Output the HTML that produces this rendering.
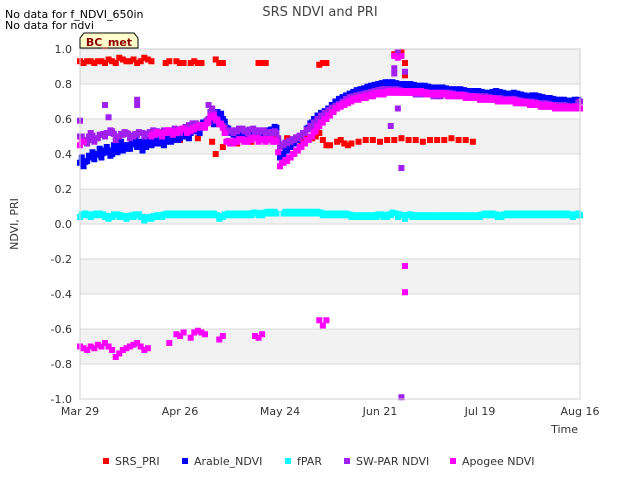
<!DOCTYPE html>
<html><head><meta charset="utf-8"><style>
body{margin:0;background:#fff;font-family:"DejaVu Sans","Liberation Sans",sans-serif;}
svg text{font-family:"DejaVu Sans","Liberation Sans",sans-serif;}
</style></head><body>
<svg id="chart" width="640" height="480" viewBox="0 0 640 480">
<text x="320" y="16" text-anchor="middle" font-size="13" fill="#444">SRS NDVI and PRI</text>
<text x="5" y="18" font-size="11" fill="#000">No data for f_NDVI_650in</text>
<text x="5" y="29" font-size="11" fill="#000">No data for ndvi</text>
<g id="grid"></g>
<g id="marks"></g>
<g id="axes"></g>
<path d="M80,48 L80,38 L84,33 L134,33 L138,38 L138,48 Z" fill="#ffffcc" stroke="#000" stroke-width="1"/>
<text x="109" y="46" text-anchor="middle" font-size="11" font-weight="bold" fill="#8b0000">BC_met</text>
<text x="18" y="224" text-anchor="middle" font-size="11" fill="#333" transform="rotate(-90 18 224)">NDVI, PRI</text>
<text x="578" y="433" text-anchor="end" font-size="11" fill="#333">Time</text>
<g id="legend"></g>
</svg>
<script>
const xTickLabels=["Mar 29","Apr 26","May 24","Jun 21","Jul 19","Aug 16"];
const xTickDays=[0,28,56,84,112,140];
const yTicks=[1.0,0.8,0.6,0.4,0.2,0.0,-0.2,-0.4,-0.6,-0.8,-1.0];
const seriesNames=["SRS_PRI","Arable_NDVI","fPAR","SW-PAR NDVI","Apogee NDVI"];
const seriesColors=["#ff0000","#0000ff","#00ffff","#a020f0","#ff00ff"];

const arableVals=[0.35,0.33,0.36,0.38,0.37,0.40,0.38,0.41,0.42,0.40,0.43,0.44,0.42,0.45,0.43,0.46,0.44,0.45,0.47,0.46,0.45,0.47,0.46,0.48,0.47,0.49,0.48,0.50,0.49,0.50,0.51,0.52,0.53,0.55,0.56,0.57,0.58,0.59,0.62,0.61,0.60,
0.55,0.52,0.51,0.50,0.50,0.51,0.50,0.51,0.52,0.52,0.51,0.53,0.52,0.54,0.55,
0.38,0.40,0.42,0.44,0.46,0.48,0.50,0.52,0.55,0.58,0.60,0.62,0.63,0.64,0.66,0.68,0.70,0.71,0.72,0.73,0.74,0.75,0.76,0.76,0.77,
0.78,0.78,0.79,0.79,0.80,0.80,0.80,0.80,0.79,0.79,0.79,0.79,0.79,0.78,0.78,
0.78,0.78,0.77,0.77,0.77,0.77,0.77,0.76,0.76,0.76,0.76,0.76,0.75,0.75,0.75,0.75,0.75,0.74,0.74,0.74,0.75,0.75,0.74,0.74,0.73,0.74,0.74,0.73,0.73,0.72,0.72,0.73,0.72,0.72,0.71,0.71,0.71,0.70,0.70,0.70,0.70,0.69,0.70,0.70,0.70];
const arableVals2=[0.38,0.36,0.39,0.41,0.40,0.43,0.42,0.44,0.39,0.45,0.41,0.47,0.45,0.43,0.46,0.48,0.47,0.42,0.44,0.49,0.48,0.46,0.49,0.45,0.50,0.47,0.51,0.48,0.52,0.53,0.49,0.54,0.55,0.52,0.58,0.59,0.60,0.57,0.64,0.63,0.58];

const apogeeVals=[0.45,0.47,null,null,null,null,null,null,null,null,null,null,null,null,null,null,null,null,null,null,
0.50,0.51,0.52,0.50,0.52,0.53,0.51,0.52,0.53,0.54,0.52,0.53,0.54,0.55,0.56,0.55,0.58,0.62,0.60,0.57,0.55,
0.47,0.46,0.46,0.47,0.48,0.47,0.47,0.48,0.49,0.47,0.48,0.47,0.48,0.47,0.47,
0.33,0.35,0.36,0.38,0.40,0.42,0.44,0.46,0.48,0.50,0.53,0.56,0.58,0.60,0.62,0.64,0.66,0.67,0.68,0.69,0.70,0.71,0.71,0.72,0.72,0.73,0.73,0.74,0.74,0.74,
0.75,0.75,0.75,0.75,0.75,0.75,0.75,0.75,0.75,0.75,0.75,0.74,0.74,0.74,0.74,0.74,0.74,0.73,0.73,0.73,0.73,0.73,0.72,0.72,0.72,0.72,0.71,0.71,0.71,0.71,0.71,0.70,0.70,0.70,0.70,0.70,0.69,0.69,0.69,0.69,0.68,0.68,0.68,0.67,0.67,0.67,0.67,0.66,0.66,0.66,0.66,0.66,0.66,0.66,0.66];
const apogeeLowDays=[0,1,2,3,4,5,6,7,8,9,10,11,12,13,14,15,16,17,18,19,25,27,28,29,31,32,33,34,35,39,40,49,50,51,67,68,69,88,89,90,91,91];
const apogeeLowVals=[-0.70,-0.71,-0.72,-0.70,-0.71,-0.69,-0.70,-0.68,-0.70,-0.72,-0.76,-0.74,-0.72,-0.71,-0.70,-0.69,-0.68,-0.70,-0.72,-0.71,-0.68,-0.63,-0.64,-0.62,-0.65,-0.62,-0.61,-0.62,-0.63,-0.66,-0.64,-0.64,-0.65,-0.63,-0.55,-0.58,-0.55,0.96,0.95,0.96,-0.24,-0.39];

const swparVals=[0.50,0.48,0.46,0.52,0.47,0.49,0.51,0.50,0.52,0.53,0.48,0.50,0.51,0.52,0.49,0.50,0.51,0.52,0.50,0.51,0.52,0.53,0.51,0.52,0.53,0.52,0.53,0.54,0.52,0.54,0.55,0.56,0.57,0.56,0.55,0.56,0.60,0.66,0.59,0.57,0.56,
0.52,0.53,0.52,0.53,0.54,0.53,0.52,0.54,0.53,0.52,0.53,0.52,0.51,0.52,0.52,
0.44,0.45,0.46,0.47,0.48,0.49,0.50,0.52,0.54,0.56,0.58,0.60,0.62,0.63,0.65,0.66,0.67,0.68,0.70,0.71,0.72,0.72,0.73,0.73,0.74,0.74,0.75,0.75,0.76,0.76,
0.76,0.76,0.76,0.76,0.75,0.75,0.75,0.75,0.74,0.74,0.74,0.74,0.74,0.73,0.73,0.73,0.74,0.74,0.74,0.73,0.73,0.73,0.73,0.72,0.72,0.72,0.72,0.72,0.72,0.71,0.71,0.71,0.71,0.70,0.70,0.71,0.70,0.70,0.69,0.69,0.69,0.69,0.68,0.68,0.68,0.68,0.67,0.67,0.67,0.67,0.67,0.66,0.66,0.67,0.70];
const swparOutDays=[0,3,7,8,16,16,36,37,88,88,89,90,90,91,87,89];
const swparOutVals=[0.59,0.48,0.68,0.61,0.71,0.68,0.68,0.66,0.86,0.89,0.98,0.32,-0.99,0.87,0.56,0.66];

const priHighDays=[0,1,2,3,4,5,6,7,8,9,10,11,12,13,14,15,16,17,18,19,20,24,25,27,28,29,31,32,33,34,38,39,40,50,51,52,67,68,69,88,89,90,91,91];
const priHighVals=[0.93,0.92,0.93,0.93,0.92,0.93,0.93,0.92,0.94,0.93,0.92,0.95,0.94,0.93,0.93,0.94,0.92,0.93,0.95,0.94,0.93,0.92,0.93,0.93,0.92,0.92,0.92,0.93,0.92,0.92,0.94,0.92,0.92,0.92,0.92,0.92,0.91,0.92,0.92,0.97,0.98,0.98,0.92,0.85];
const priLowDays=[24,26,28,30,33,37,38,40,42,44,46,48,50,52,54,58,60,62,63,65,66,67,68,69,70,72,73,74,75,76,78,80,82,84,86,88,90,92,94,96,98,100,102,104,106,108,110];
const priLowVals=[0.52,0.50,0.48,0.50,0.49,0.47,0.40,0.44,0.47,0.46,0.48,0.47,0.49,0.48,0.50,0.49,0.48,0.47,0.51,0.49,0.50,0.52,0.48,0.45,0.45,0.47,0.48,0.46,0.45,0.46,0.47,0.48,0.48,0.47,0.48,0.48,0.49,0.48,0.48,0.47,0.48,0.48,0.48,0.49,0.48,0.48,0.47];

const fparVals=[0.04,0.05,0.05,0.04,0.05,0.05,0.05,0.04,0.03,0.04,0.05,0.04,0.04,0.03,0.04,0.04,0.05,0.04,0.02,0.03,0.03,0.04,0.04,0.04,0.05,0.05,0.05,0.05,0.05,0.05,0.05,0.05,0.05,0.05,0.05,0.05,0.05,0.05,0.05,0.03,0.04,0.05,0.05,0.05,0.05,0.05,0.05,0.05,0.05,0.06,0.05,0.05,0.06,0.06,0.06,0.06,null,0.06,0.06,0.06,0.06,0.06,0.06,0.06,0.06,0.06,0.06,0.06,0.05,0.05,0.05,0.05,0.05,0.05,0.05,0.05,0.04,0.04,0.04,0.04,0.04,0.04,0.04,0.04,0.05,0.04,0.04,0.05,0.06,0.04,0.05,0.03,0.05,0.04,0.04,0.04,0.04,0.04,0.04,0.04,0.04,0.04,0.04,0.04,0.04,0.04,0.04,0.04,0.04,0.04,0.04,0.04,0.04,0.05,0.05,0.05,0.05,0.04,0.04,0.05,0.05,0.05,0.05,0.05,0.05,0.05,0.05,0.05,0.05,0.05,0.05,0.05,0.05,0.05,0.05,0.05,0.05,0.05,0.04,0.05,0.05];

const NS="http://www.w3.org/2000/svg";
const X0=80,X1=580,Y0=49,Y1=399;
function xs(d){return X0+(d-xTickDays[0])/(xTickDays[5]-xTickDays[0])*(X1-X0);}
function ys(v){return Y0+(1-v)/2*(Y1-Y0);}
function mk(tag,attrs,parent){const e=document.createElementNS(NS,tag);for(const k in attrs)e.setAttribute(k,attrs[k]);parent.appendChild(e);return e;}
const grid=document.getElementById('grid'),marks=document.getElementById('marks'),axes=document.getElementById('axes'),legend=document.getElementById('legend');
for(let i=0;i<yTicks.length-1;i+=2){
  const r=mk('rect',{x:X0,y:ys(yTicks[i]),width:X1-X0,height:ys(yTicks[i+1])-ys(yTicks[i]),fill:'#f2f2f2'},grid);
  
  
}
yTicks.forEach(v=>{
  const l=mk('line',{x1:X0,x2:X1,y1:ys(v),y2:ys(v),stroke:'#d9d9d9','stroke-width':1},grid);
  
  
  const t=mk('text',{x:X0-8,y:ys(v)+4,'text-anchor':'end','font-size':11,fill:'#333'},axes);
  t.textContent=v.toFixed(1);
  
  
});
xTickDays.forEach((d,i)=>{
  const t=mk('text',{x:xs(d),y:415,'text-anchor':'middle','font-size':11,fill:'#333'},axes);
  t.textContent=xTickLabels[i];
  
  
});
const fr=mk('rect',{x:X0,y:Y0,width:X1-X0,height:Y1-Y0,fill:'none',stroke:'#d0d0d0'},axes);


function pt(d,v,c,name){
  if(v===null||v===undefined)return;
  const r=mk('rect',{x:xs(d)-3,y:ys(v)-3,width:6,height:6,fill:c},marks);
  
  
}
function dense(vals,c,name){
  vals.forEach((v,i)=>{pt(i,v,c,name);if(v!==null&&i+1<vals.length&&vals[i+1]!==null)pt(i+0.5,(v+vals[i+1])/2+0.01,c,name);});
}
priHighDays.forEach((d,i)=>pt(d,priHighVals[i],seriesColors[0],'srs-pri-point'));
priLowDays.forEach((d,i)=>pt(d,priLowVals[i],seriesColors[0],'srs-pri-point'));
dense(arableVals,seriesColors[1],'arable-ndvi-point');
arableVals2.forEach((v,i)=>pt(i+0.5,v,seriesColors[1],'arable-ndvi-point'));
dense(fparVals,seriesColors[2],'fpar-point');
dense(swparVals,seriesColors[3],'sw-par-ndvi-point');
swparOutDays.forEach((d,i)=>pt(d,swparOutVals[i],seriesColors[3],'sw-par-ndvi-point'));
dense(apogeeVals,seriesColors[4],'apogee-ndvi-point');
apogeeLowDays.forEach((d,i)=>pt(d,apogeeLowVals[i],seriesColors[4],'apogee-ndvi-point'));
const lx=[106,185,288,347,453];
seriesNames.forEach((n,i)=>{
  const g=mk('g',{},legend);
  
  
  mk('rect',{x:lx[i]-3,y:458,width:6,height:6,fill:seriesColors[i]},g);
  const t=mk('text',{x:lx[i]+9,y:465,'font-size':11,fill:'#333'},g);
  t.textContent=n;
});
</script>
</body></html>
